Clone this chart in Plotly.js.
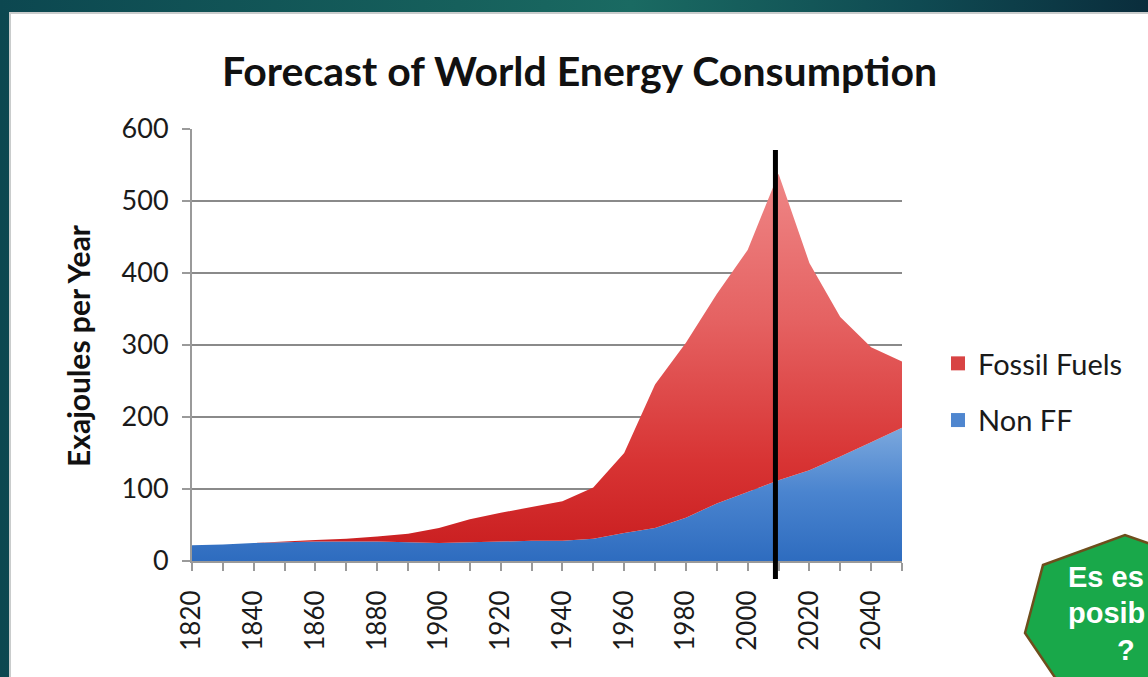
<!DOCTYPE html>
<html>
<head>
<meta charset="utf-8">
<script src="https://cdn.plot.ly/plotly-3.0.1.min.js"></script>
<style>
  html, body { margin:0; padding:0; width:1148px; height:677px; overflow:hidden; }
  body { background: linear-gradient(90deg, #0c4750 0%, #16605c 40%, #1a6a62 55%, #0f4a52 80%, #0a2d3c 100%); position:relative; }
  #frame { position:absolute; left:9px; top:12px; width:1139px; height:665px; background:#c9cccc; }
  #chart { position:absolute; left:11px; top:14px; width:1137px; height:663px; }
</style>
</head>
<body>
<div id="frame"></div>
<div id="chart"></div>
<script>
const years = [1820,1830,1840,1850,1860,1870,1880,1890,1900,1910,1920,1930,1940,1950,1960,1970,1980,1990,2000,2010,2020,2030,2040,2050];
const nonFF = [22,23,25,26,27,27,27,26,25,26,27,28,28,31,39,46,60,80,96,112,126,145,165,185];
const fossilFuels = [0,0,0,1,2,4,7,12,21,32,40,47,55,71,111,199,243,291,336,426,288,194,132,92];
const seriesNames = ['Fossil Fuels', 'Non FF'];
const yTicks = [0,100,200,300,400,500,600];
const markYear = 2009;
const calloutLines = ['Es es', 'posib', '?'];

// pixel helpers (page coords -> paper coords) for the slide decoration
const L = 181, T = 115, PW = 710, PH = 432, OX = 11, OY = 14;
const px = x => (x - OX - L) / PW;
const py = y => 1 - (y - OY - T) / PH;

const oct = [[1043,565],[1125,535],[1210,565],[1232,640],[1195,722],[1085,722],[1025,633]];
const octPath = 'M' + oct.map(p => px(p[0]) + ',' + py(p[1])).join('L') + 'Z';

const traces = [
  {
    x: years, y: nonFF, name: seriesNames[1], type: 'scatter', mode: 'none',
    stackgroup: 'one', showlegend: false, hoverinfo: 'x+y',
    fillgradient: { type: 'vertical', start: 0, stop: 190,
      colorscale: [[0, '#2e6cbf'], [0.5, '#4a84cf'], [1, '#7eaade']] }
  },
  {
    x: years, y: fossilFuels, name: seriesNames[0], type: 'scatter', mode: 'none',
    stackgroup: 'one', showlegend: false, hoverinfo: 'x+y',
    fillgradient: { type: 'vertical', start: 0, stop: 560,
      colorscale: [[0, '#c81c1e'], [0.25, '#d83434'], [0.6, '#e56262'], [1, '#f08a8a']] }
  },
  { x: [null], y: [null], name: seriesNames[0], type: 'scatter', mode: 'markers',
    marker: { symbol: 'square', size: 14, color: '#d84444' }, legendgroup: 'a' },
  { x: [null], y: [null], name: seriesNames[1], type: 'scatter', mode: 'markers',
    marker: { symbol: 'square', size: 14, color: '#4f86cf' }, legendgroup: 'b' }
];

const calloutFont = { family: '"Liberation Sans", Arial, sans-serif', size: 29, color: '#ffffff' };

const layout = {
  width: 1137, height: 663,
  margin: { l: L, r: 1137 - L - PW, t: T, b: 663 - T - PH, pad: 0 },
  paper_bgcolor: '#ffffff', plot_bgcolor: '#ffffff',
  font: { family: 'Lato, "Open Sans", sans-serif', color: '#1a1a1a' },
  title: { text: '<b>Forecast of World Energy Consumption</b>', x: 0.5, xref: 'container',
           y: 1 - 58 / 663, yref: 'container', yanchor: 'middle', xanchor: 'center',
           font: { size: 41, color: '#111' } },
  showlegend: true,
  legend: { x: px(938), y: py(338), xanchor: 'left', yanchor: 'top', traceorder: 'grouped',
            tracegroupgap: 16, font: { size: 29, color: '#1a1a1a' }, bgcolor: 'rgba(0,0,0,0)' },
  xaxis: {
    range: [1820, 2050], tick0: 1820, dtick: 20, tickmode: 'linear',
    showgrid: false, zeroline: false, showline: true, linecolor: '#9a9a9a', linewidth: 2,
    ticks: 'outside', ticklen: 8, tickwidth: 2, tickcolor: '#9a9a9a', tickangle: -90,
    ticklabelstandoff: 9,
    tickfont: { size: 26, color: '#1a1a1a' },
    minor: { tick0: 1820, dtick: 10, ticks: 'outside', ticklen: 8, tickwidth: 2, tickcolor: '#9a9a9a', showgrid: false }
  },
  yaxis: {
    range: [0, 600], tickmode: 'array', tickvals: yTicks, ticktext: yTicks.map(String),
    showgrid: true, gridcolor: '#8a8a8a', gridwidth: 2, zeroline: false,
    showline: true, linecolor: '#9a9a9a', linewidth: 2,
    ticks: 'outside', ticklen: 8, tickwidth: 2, tickcolor: '#9a9a9a',
    ticklabelstandoff: 8,
    tickfont: { size: 27, color: '#1a1a1a' }
  },
  shapes: [
    { type: 'line', xref: 'x', yref: 'paper', x0: markYear, x1: markYear, y0: py(579), y1: py(150),
      line: { color: '#000000', width: 5 }, layer: 'above' },
    { type: 'path', xref: 'paper', yref: 'paper', path: octPath,
      fillcolor: '#19a84a', line: { color: '#6e4e1c', width: 2.5 }, layer: 'above' }
  ],
  annotations: [
    { text: '<b>Exajoules per Year</b>', xref: 'paper', yref: 'paper', x: px(78), y: py(346),
      textangle: -90, showarrow: false, xanchor: 'center', yanchor: 'middle',
      font: { size: 30, color: '#111' } },
    { text: '<b>' + calloutLines[0] + '</b>', xref: 'paper', yref: 'paper',
      x: px(1066), y: py(577), showarrow: false, xanchor: 'left', yanchor: 'middle', font: calloutFont },
    { text: '<b>' + calloutLines[1] + '</b>', xref: 'paper', yref: 'paper',
      x: px(1066), y: py(613), showarrow: false, xanchor: 'left', yanchor: 'middle', font: calloutFont },
    { text: '<b>' + calloutLines[2] + '</b>', xref: 'paper', yref: 'paper',
      x: px(1126), y: py(650), showarrow: false, xanchor: 'center', yanchor: 'middle', font: calloutFont }
  ]
};

Plotly.newPlot('chart', traces, layout, { displayModeBar: false, staticPlot: true });
</script>
</body>
</html>
